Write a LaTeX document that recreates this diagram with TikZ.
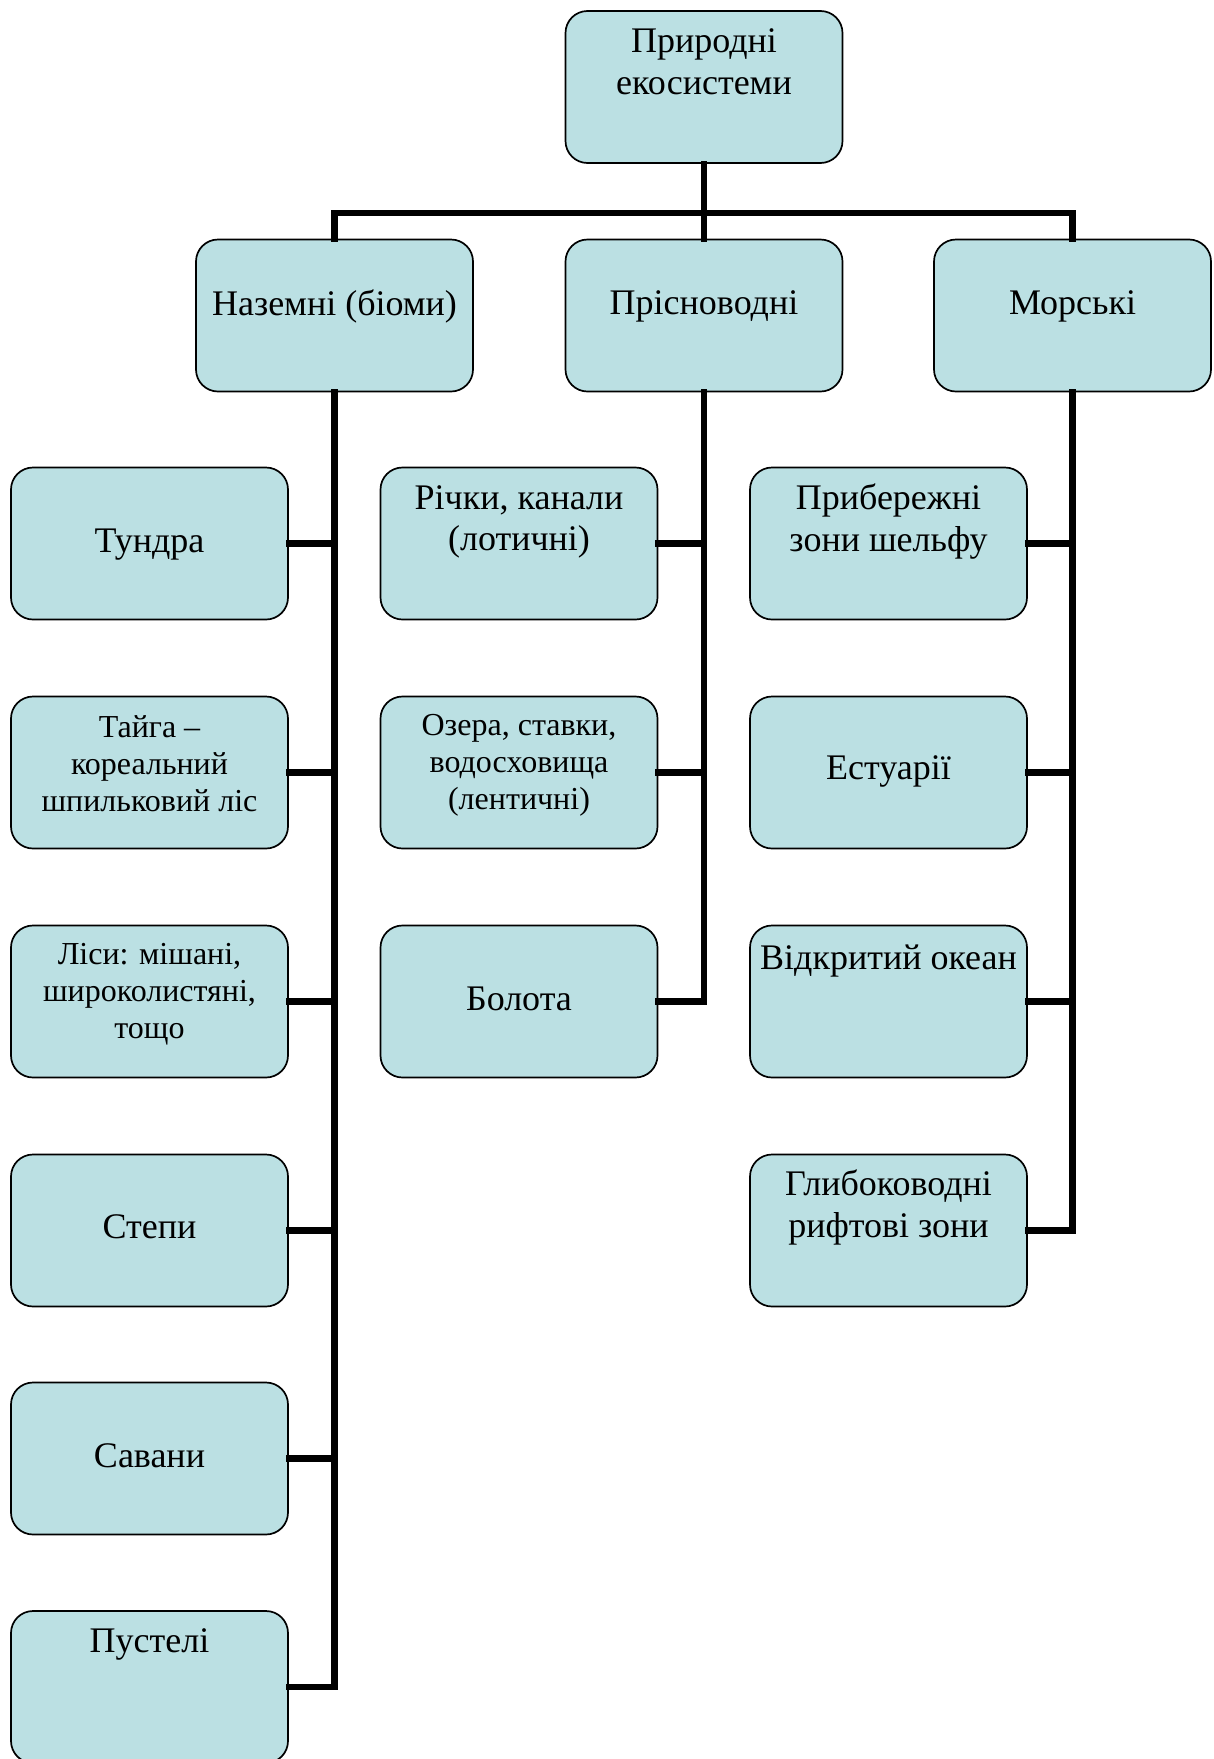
\documentclass[tikz,border=0pt]{standalone}
\usepackage{fontspec}
\setmainfont{Liberation Serif}
\definecolor{boxfill}{RGB}{187,224,227}
\tikzset{
  box/.style={draw=black, line width=1.7pt, fill=boxfill, rounded corners=22pt,
    minimum width=277pt, minimum height=152pt, inner sep=0pt},
  txt/.style={align=center, font=\fontsize{36}{41.5}\selectfont, inner sep=0pt},
  smalltxt/.style={align=center, font=\fontsize{32}{37}\selectfont, inner sep=0pt},
  conn/.style={line width=6.5pt, line join=miter, line cap=rect}
}
\begin{document}
\begin{tikzpicture}[x=1pt,y=1pt]
\useasboundingbox (0,0) rectangle (1213,-1759);
% boxes
\node[box] (root) at (704,-87) {};
\node[box] (n1) at (334.5,-315.5) {};
\node[box] (n2) at (704,-315.5) {};
\node[box] (n3) at (1072.5,-315.5) {};
\node[box] (t1) at (149.5,-543.5) {};
\node[box] (t2) at (149.5,-772.5) {};
\node[box] (t3) at (149.5,-1001.5) {};
\node[box] (t4) at (149.5,-1230.5) {};
\node[box] (t5) at (149.5,-1458.5) {};
\node[box] (t6) at (149.5,-1687) {};
\node[box] (f1) at (519,-543.5) {};
\node[box] (f2) at (519,-772.5) {};
\node[box] (f3) at (519,-1001.5) {};
\node[box] (m1) at (888.5,-543.5) {};
\node[box] (m2) at (888.5,-772.5) {};
\node[box] (m3) at (888.5,-1001.5) {};
\node[box] (m4) at (888.5,-1230.5) {};
% texts
\node[txt] (lroot) at (704,-62) {Природні\\екосистеми};
\node[txt] (ln1) at (334.5,-306.5) {Наземні (біоми)};
\node[txt] (ln2) at (704,-306.5) {Прісноводні};
\node[txt] (ln3) at (1072.5,-306.5) {Морські};
\node[txt] (lt1) at (149.5,-544.5) {Тундра};
\node[smalltxt] (lt2) at (149.5,-763.5) {Тайга –\\кореальний\\шпильковий ліс};
\node[smalltxt] (lt3) at (149.5,-994) {Ліси: мішані,\\широколистяні,\\тощо};
\node[txt] (lt4) at (149.5,-1226.5) {Степи};
\node[txt] (lt5) at (149.5,-1455.5) {Савани};
\node[txt] (lt6) at (149.5,-1644) {Пустелі};
\node[txt] (lf1) at (519,-522) {Річки, канали\\(лотичні)};
\node[smalltxt] (lf2) at (519,-765) {Озера, ставки,\\водосховища\\(лентичні)};
\node[txt] (lf3) at (519,-998.5) {Болота};
\node[txt] (lm1) at (888.5,-521.5) {Прибережні\\зони шельфу};
\node[txt] (lm2) at (888.5,-771) {Естуарії};
\node[txt] (lm3) at (888.5,-960.5) {Відкритий океан};
\node[txt] (lm4) at (888.5,-1207.5) {Глибоководні\\рифтові зони};
% connectors
\coordinate (bar) at (704,-213);
\draw[conn] (root.south) -- (n2.north);
\draw[conn] (n1.north) |- (bar) -| (n3.north);
\draw[conn] (n1.south) |- (t6.east);
\foreach \b in {t1,t2,t3,t4,t5} \draw[conn] (\b.east) -- (\b.east -| n1.south);
\draw[conn] (n2.south) |- (f3.east);
\foreach \b in {f1,f2} \draw[conn] (\b.east) -- (\b.east -| n2.south);
\draw[conn] (n3.south) |- (m4.east);
\foreach \b in {m1,m2,m3} \draw[conn] (\b.east) -- (\b.east -| n3.south);
\end{tikzpicture}
\end{document}
